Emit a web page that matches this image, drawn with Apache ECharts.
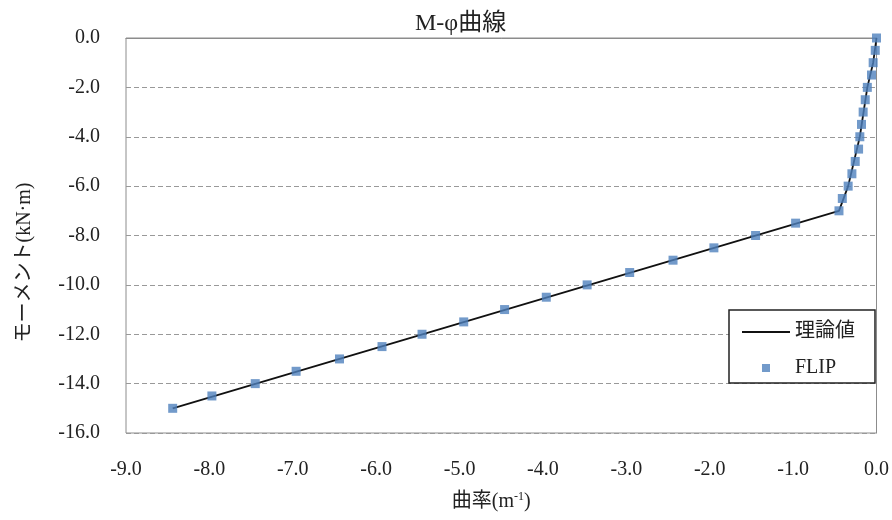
<!DOCTYPE html>
<html><head><meta charset="utf-8">
<script src="https://cdn.jsdelivr.net/npm/echarts@6/dist/echarts.min.js"></script>
<style>html,body{margin:0;padding:0;background:#fff}#c{width:892px;height:520px}</style>
</head><body><div id="c"></div>
<script>
// FLIP results: curvature (m^-1) and moment (kN·m)
const flipCurvature = [0, -0.015, -0.04, -0.06, -0.11, -0.135, -0.16, -0.18, -0.20, -0.215, -0.255, -0.295, -0.34, -0.41, -0.45,
  -0.97, -1.45, -1.95, -2.44, -2.96, -3.47, -3.96, -4.46, -4.95, -5.45, -5.93, -6.44, -6.96, -7.45, -7.97, -8.44];
const flipMoment = [0, -0.5, -1, -1.5, -2, -2.5, -3, -3.5, -4, -4.5, -5, -5.5, -6, -6.5, -7,
  -7.5, -8, -8.5, -9, -9.5, -10, -10.5, -11, -11.5, -12, -12.5, -13, -13.5, -14, -14.5, -15];
// theoretical curve
const theoryCurvature = [0, -0.04, -0.11, -0.20, -0.34, -0.45, -8.44];
const theoryMoment = [0, -1, -2, -4, -6, -7, -15];

const serif = '"Liberation Serif","Noto Sans CJK JP",serif';
const chart = echarts.init(document.getElementById('c'));
chart.setOption({
  animation: false,
  backgroundColor: '#fff',
  textStyle: { fontFamily: serif },
  title: { text: 'M-φ曲線', left: 410, top: 7, textStyle: { fontFamily: serif, fontSize: 24, fontWeight: 'normal', color: '#222' } },
  grid: { left: 126, right: 14, top: 38, bottom: 87, show: true, borderColor: '#8c8c8c', borderWidth: 1 },
  xAxis: {
    type: 'value', min: -9, max: 0, interval: 1,
    axisLine: { show: true, lineStyle: { color: '#8c8c8c' } },
    axisTick: { show: false },
    splitLine: { show: false },
    axisLabel: { formatter: v => v.toFixed(1), fontFamily: serif, fontSize: 20, color: '#222', margin: 27 },
    name: '{a|曲率(m}{s|-1}{a|)}', nameLocation: 'middle', nameGap: 58,
    nameTextStyle: { padding: [0, 20, 0, 0], rich: { a: { fontFamily: serif, fontSize: 20, color: '#222' }, s: { fontFamily: serif, fontSize: 12, color: '#222', verticalAlign: 'top', padding: [0, 0, 9, 0] } } }
  },
  yAxis: {
    type: 'value', min: -16, max: 0, interval: 2,
    axisLine: { show: true, lineStyle: { color: '#8c8c8c' } },
    axisTick: { show: false },
    splitLine: { show: true, lineStyle: { color: '#999', type: [5, 3] } },
    axisLabel: { formatter: v => v.toFixed(1), fontFamily: serif, fontSize: 20, color: '#222', margin: 26 },
    name: 'モーメント(kN·m)', nameLocation: 'middle', nameGap: 91,
    nameTextStyle: { fontFamily: serif, fontSize: 20, color: '#222', padding: [0, 54, 0, 0] }
  },
  legend: {
    orient: 'vertical', left: 729, top: 310,
    padding: [12, 20, 5, 13], itemGap: 16,
    borderColor: '#222', borderWidth: 1.5, backgroundColor: '#fff',
    itemWidth: 48, itemHeight: 14,
    textStyle: { fontFamily: serif, fontSize: 20, color: '#222' },
    data: [
      { name: '理論値', icon: 'path://M0,0L0.01,0M48,14L48.01,14M0,6.1L48,6.1L48,7.9L0,7.9Z', itemStyle: { color: '#111' } },
      { name: 'FLIP', icon: 'path://M0,0L0.01,0M48,14L48.01,14M20,3L28,3L28,11L20,11Z' }
    ]
  },
  series: [
    {
      name: '理論値', type: 'line', symbol: 'none',
      lineStyle: { color: '#111', width: 1.8 }, itemStyle: { color: '#111' },
      data: theoryCurvature.map((x, i) => [x, theoryMoment[i]]), z: 2
    },
    {
      name: 'FLIP', type: 'scatter', symbol: 'rect', symbolSize: 9,
      itemStyle: { color: '#4F81BD' },
      data: flipCurvature.map((x, i) => [x, flipMoment[i]]), z: 3
    }
  ]
});
</script></body></html>
